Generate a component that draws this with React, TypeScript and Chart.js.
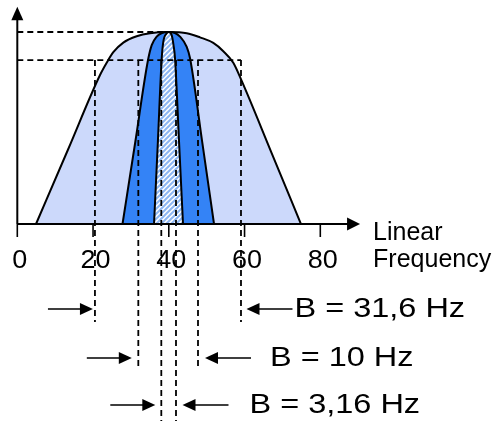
import { useEffect, useRef } from 'react';
import { Chart, registerables } from 'chart.js';

Chart.register(...registerables);

// ---- data (frequency in Hz on x, relative amplitude on y) ----
const xTicks = [0, 20, 40, 60, 80];
const tickLabels = ['0', '20', '40', '60', '80'];
const axisLabel = ['Linear', 'Frequency'];

const wideCurve = [
  { x: 4.94, y: 0 }, { x: 13.4, y: 0.388 }, { x: 21.84, y: 0.776 }, { x: 23.6, y: 0.84 },
  { x: 25.35, y: 0.895 }, { x: 27.99, y: 0.945 }, { x: 31.52, y: 0.978 }, { x: 35.04, y: 0.994 },
  { x: 39.9, y: 1.0 }, { x: 44.73, y: 0.994 }, { x: 48.24, y: 0.972 }, { x: 51.75, y: 0.943 },
  { x: 54.39, y: 0.9 }, { x: 57.03, y: 0.84 }, { x: 59.25, y: 0.745 }, { x: 67.1, y: 0.372 },
  { x: 74.9, y: 0 },
];
const midCurve = [
  { x: 27.78, y: 0 }, { x: 31.15, y: 0.427 }, { x: 34.51, y: 0.854 }, { x: 35.49, y: 0.932 },
  { x: 36.8, y: 0.976 }, { x: 38.2, y: 0.995 }, { x: 39.9, y: 1.0 }, { x: 41.64, y: 0.995 },
  { x: 42.96, y: 0.976 }, { x: 44.73, y: 0.923 }, { x: 45.61, y: 0.863 }, { x: 48.8, y: 0.43 },
  { x: 51.94, y: 0 },
];
const narrowCurve = [
  { x: 36.1, y: 0 }, { x: 37.12, y: 0.43 }, { x: 38.13, y: 0.863 }, { x: 38.55, y: 0.949 },
  { x: 39.45, y: 0.993 }, { x: 39.9, y: 1.0 }, { x: 40.76, y: 0.984 }, { x: 41.24, y: 0.932 },
  { x: 41.64, y: 0.863 }, { x: 42.7, y: 0.43 }, { x: 43.75, y: 0 },
];

const peakLevel = 1.0;
const peakFreq = 39.9;
const bandLevel = 0.854;
const bandLeft = [20.5, 31.95, 38.02];
const bandRight = [59.06, 47.71, 41.9];
const bandLabels = ['B = 31,6 Hz', 'B = 10 Hz', 'B = 3,16 Hz'];
// annotation rows below the axis (amplitude units)
const bandRowY = [-0.443, -0.698, -0.943];
const bandLineEnd = [-0.51, -0.745, -1.03];

const FONT = '"Liberation Sans", Arial, Helvetica, sans-serif';

function makeHatch(): CanvasPattern | string {
  const s = 5;
  const c = document.createElement('canvas');
  c.width = s;
  c.height = s;
  const g = c.getContext('2d');
  if (!g) return '#ffffff';
  g.fillStyle = '#ffffff';
  g.fillRect(0, 0, s, s);
  g.strokeStyle = '#8db6f2';
  g.lineWidth = 2;
  g.beginPath();
  g.moveTo(0, s); g.lineTo(s, 0);
  g.moveTo(-1, 1); g.lineTo(1, -1);
  g.moveTo(s - 1, s + 1); g.lineTo(s + 1, s - 1);
  g.stroke();
  return g.createPattern(c, 'repeat') || '#ffffff';
}

function stretchedText(ctx: CanvasRenderingContext2D, text: string, x: number, y: number, size: number, sx: number, align: 'left' | 'center') {
  ctx.save();
  ctx.font = `${size}px ${FONT}`;
  ctx.textBaseline = 'alphabetic';
  ctx.textAlign = 'left';
  const w = ctx.measureText(text).width * sx;
  const left = align === 'center' ? x - w / 2 : x;
  ctx.translate(left, y);
  ctx.scale(sx, 1);
  ctx.fillStyle = '#000';
  ctx.fillText(text, 0, 0);
  ctx.restore();
}

function arrowHead(ctx: CanvasRenderingContext2D, tipX: number, tipY: number, dx: number, dy: number, len: number, half: number) {
  const bx = tipX - dx * len;
  const by = tipY - dy * len;
  ctx.beginPath();
  ctx.moveTo(tipX, tipY);
  ctx.lineTo(bx - dy * half, by + dx * half);
  ctx.lineTo(bx + dy * half, by - dx * half);
  ctx.closePath();
  ctx.fill();
}

const diagramPlugin = {
  id: 'diagram',
  afterDatasetsDraw(chart: any) {
    const ctx: CanvasRenderingContext2D = chart.ctx;
    const xs = chart.scales.x;
    const ys = chart.scales.y;
    const X = (v: number) => xs.getPixelForValue(v);
    const Y = (v: number) => ys.getPixelForValue(v);
    ctx.save();
    ctx.fillStyle = '#000';
    ctx.strokeStyle = '#000';
    ctx.lineCap = 'butt';

    const x0 = X(0);
    const y0 = Y(0);
    // axes
    ctx.lineWidth = 2;
    ctx.beginPath();
    ctx.moveTo(x0, y0);
    ctx.lineTo(X(87.5), y0);
    ctx.stroke();
    arrowHead(ctx, X(90.5), y0, 1, 0, 13, 6.5);
    ctx.beginPath();
    ctx.moveTo(x0, y0);
    ctx.lineTo(x0, Y(1.08));
    ctx.stroke();
    arrowHead(ctx, x0, Y(1.132), 0, -1, 13.5, 6);

    // ticks
    ctx.lineWidth = 1.6;
    xTicks.forEach((t) => {
      ctx.beginPath();
      ctx.moveTo(X(t), y0);
      ctx.lineTo(X(t), y0 + 13);
      ctx.stroke();
    });
    xTicks.forEach((t, i) => {
      stretchedText(ctx, tickLabels[i], X(t) + 2.5, y0 + 44, 25, 1.08, 'center');
    });
    const endX = X(90.5);
    stretchedText(ctx, axisLabel[0], endX + 13, y0 + 16, 25, 1.0, 'left');
    stretchedText(ctx, axisLabel[1], endX + 13, y0 + 43, 25, 1.0, 'left');

    // bandwidth arrows
    const gapL = [2, 6.5, 6];
    const gapR = [5.5, 7, 6.5];
    const textGap = [2, 19, 21];
    ctx.lineWidth = 1.6;
    bandLabels.forEach((lab, i) => {
      const ry = Y(bandRowY[i]);
      const lt = X(bandLeft[i]) - gapL[i];
      const rt = X(bandRight[i]) + gapR[i];
      ctx.beginPath();
      ctx.moveTo(lt - 45, ry);
      ctx.lineTo(lt - 10, ry);
      ctx.moveTo(rt + 10, ry);
      ctx.lineTo(rt + 46, ry);
      ctx.stroke();
      arrowHead(ctx, lt, ry, 1, 0, 13, 6);
      arrowHead(ctx, rt, ry, -1, 0, 13, 6);
      stretchedText(ctx, lab, rt + 46 + textGap[i], ry + 8, 28, 1.16, 'left');
    });
    ctx.restore();
  },
};

export default function App() {
  const ref = useRef<HTMLCanvasElement>(null);
  useEffect(() => {
    const canvas = ref.current;
    if (!canvas) return;
    const hatch = makeHatch();
    const dash = [6, 4];
    const shape = (data: any[], bg: any, order: number) => ({
      data,
      backgroundColor: bg,
      borderColor: '#000',
      borderWidth: 2,
      pointRadius: 0,
      fill: 'origin',
      cubicInterpolationMode: 'monotone',
      order,
    });
    const dashed = (data: any[]) => ({
      data,
      borderColor: '#000',
      borderWidth: 1.8,
      borderDash: dash,
      pointRadius: 0,
      fill: false,
      tension: 0,
      order: 1,
    });
    const datasets: any[] = [
      shape(wideCurve, '#ccd9fb', 10),
      shape(midCurve, '#3483f6', 9),
      shape(narrowCurve, hatch, 8),
      dashed([{ x: 0, y: peakLevel }, { x: peakFreq, y: peakLevel }]),
      dashed([{ x: 0, y: bandLevel }, { x: bandRight[0], y: bandLevel }]),
    ];
    bandLeft.forEach((e, i) => {
      datasets.push(dashed([{ x: e, y: bandLevel }, { x: e, y: bandLineEnd[i] }]));
      datasets.push(dashed([{ x: bandRight[i], y: bandLevel }, { x: bandRight[i], y: bandLineEnd[i] }]));
    });
    const chart = new Chart(canvas, {
      type: 'line',
      data: { datasets },
      options: {
        animation: false,
        responsive: false,
        devicePixelRatio: 1,
        layout: { padding: 0 },
        scales: {
          x: { type: 'linear', min: -17.3 / 3.7875, max: (500 - 17.3) / 3.7875, display: false },
          y: { type: 'linear', min: -1.026, max: 1.1667, display: false },
        },
        plugins: {
          legend: { display: false },
          tooltip: { enabled: false },
        },
      },
      plugins: [diagramPlugin],
    } as any);
    return () => chart.destroy();
  }, []);
  return (
    <div style={{ position: 'fixed', left: 0, top: 0, width: 500, height: 421, background: '#fff' }}>
      <canvas ref={ref} width={500} height={421} style={{ display: 'block', width: 500, height: 421 }} />
    </div>
  );
}
